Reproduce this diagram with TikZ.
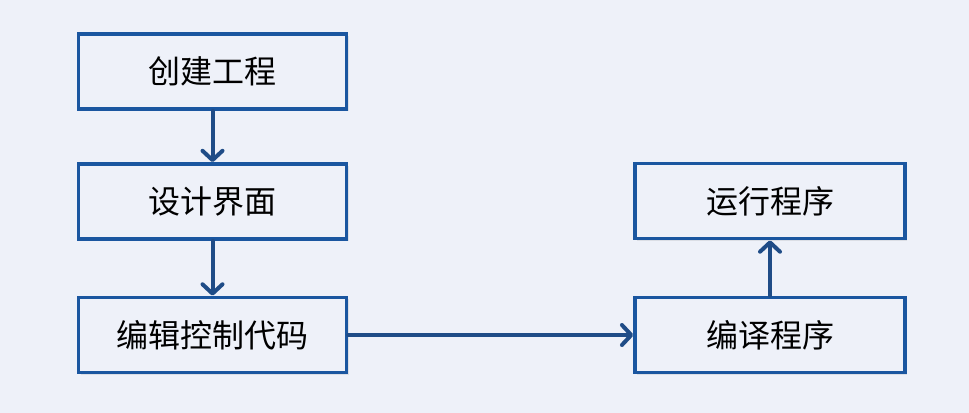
\documentclass[tikz,border=0pt]{standalone}
\usepackage{fontspec}
\newfontfamily\cjk{Noto Sans CJK SC}
\usetikzlibrary{arrows.meta,shadows}
\definecolor{bgc}{HTML}{EEF1F9}
\definecolor{boxc}{HTML}{1A56A0}
\definecolor{arrc}{HTML}{1F4C87}
\tikzset{
  stepbox/.style={draw=boxc, line width=2.6pt, fill=bgc, inner sep=0pt,
    minimum width=201pt, minimum height=56.5pt,
    font=\cjk\fontsize{24pt}{27pt}\selectfont, text=black,
    drop shadow={shadow xshift=1.5pt, shadow yshift=-1.5pt, fill=black, opacity=0.08}},
  flow/.style={draw=arrc, line width=3pt, line cap=round,
    -{Straight Barb[round, length=7pt, width=15pt, line width=3pt]}}
}
\begin{document}
\begin{tikzpicture}[x=0.75pt,y=-0.75pt]
\fill[bgc] (0,0) rectangle (969,413);
\useasboundingbox (0,0) rectangle (969,413);
\node[stepbox] (a) at (212.5,71.5) {创建工程};
\node[stepbox] (b) at (212.5,201.5) {设计界面};
\node[stepbox] (c) at (212.5,335) {编辑控制代码};
\node[stepbox, minimum width=202.5pt] (d) at (770,335) {编译程序};
\node[stepbox, minimum width=202.5pt] (e) at (770,201) {运行程序};
\draw[flow] (a) -- (b);
\draw[flow] (b) -- (c);
\draw[flow] (c) -- (d);
\draw[flow] (d) -- (e);
\end{tikzpicture}
\end{document}
